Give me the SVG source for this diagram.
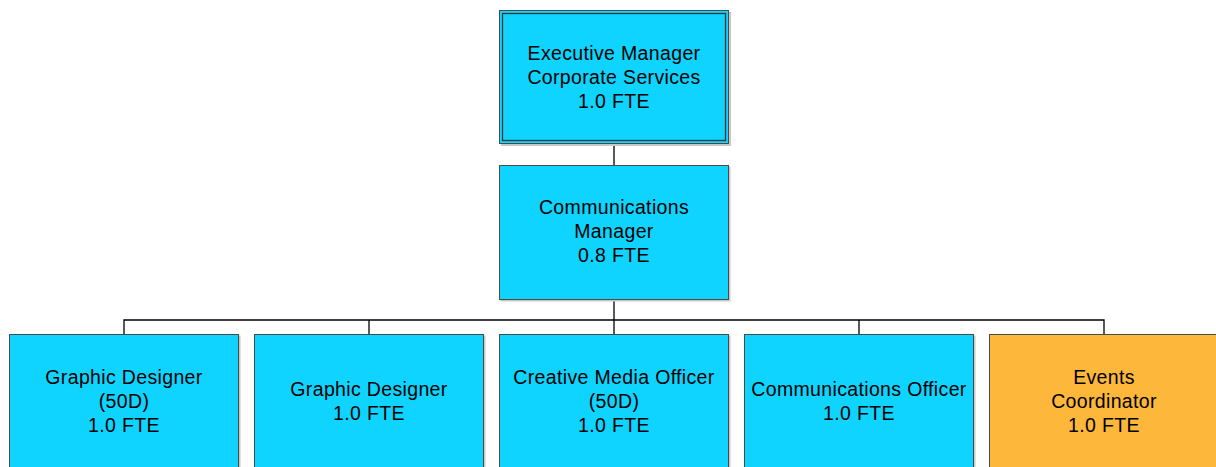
<svg xmlns="http://www.w3.org/2000/svg" width="1216" height="467" viewBox="0 0 1216 467">
<style>
.box{fill:#0fd4ff;stroke:#4a4a4a;stroke-width:1}
.ev{fill:#fdb73a;stroke:#4a4a4a;stroke-width:1}
.sh{fill:#c8c8c8}
.t{font-family:"Liberation Sans",Arial,sans-serif;font-size:19.5px;letter-spacing:0.35px;fill:#000;text-anchor:middle}
.c{fill:none;stroke:#000;stroke-width:1.3}
</style>
<rect width="1216" height="467" fill="#fff"/>
<g id="connectors">
<path class="c" d="M614 144V165"/>
<path class="c" d="M614 300V334"/>
<path class="c" d="M124 334V320H1104V334"/>
<path class="c" d="M369 320V334M859 320V334"/>
</g>
<g id="exec">
<rect class="sh" x="501" y="12" width="230" height="134"/>
<rect class="box" x="499.5" y="10.5" width="229" height="133" stroke="#333" stroke-width="1.8"/>
<rect x="502.5" y="13.5" width="223" height="127" fill="none" stroke="#333" stroke-width="1.3"/>
<text class="t" x="614" y="60">Executive Manager</text>
<text class="t" x="614" y="84">Corporate Services</text>
<text class="t" x="614" y="107.5">1.0 FTE</text>
</g>
<g id="commsmgr">
<rect class="sh" x="500.5" y="166.5" width="230" height="135"/>
<rect class="box" x="499.5" y="165.5" width="229" height="134"/>
<text class="t" x="614" y="214">Communications</text>
<text class="t" x="614" y="238">Manager</text>
<text class="t" x="614" y="262">0.8 FTE</text>
</g>
<g id="gd50">
<rect class="sh" x="10.5" y="335.5" width="230" height="140"/>
<rect class="box" x="9.5" y="334.5" width="229" height="140"/>
<text class="t" x="124" y="384">Graphic Designer</text>
<text class="t" x="124" y="408">(50D)</text>
<text class="t" x="124" y="432">1.0 FTE</text>
</g>
<g id="gd">
<rect class="sh" x="255.5" y="335.5" width="230" height="140"/>
<rect class="box" x="254.5" y="334.5" width="229" height="140"/>
<text class="t" x="369" y="396">Graphic Designer</text>
<text class="t" x="369" y="419.5">1.0 FTE</text>
</g>
<g id="cmo">
<rect class="sh" x="500.5" y="335.5" width="230" height="140"/>
<rect class="box" x="499.5" y="334.5" width="229" height="140"/>
<text class="t" x="614" y="384">Creative Media Officer</text>
<text class="t" x="614" y="408">(50D)</text>
<text class="t" x="614" y="432">1.0 FTE</text>
</g>
<g id="co">
<rect class="sh" x="745.5" y="335.5" width="230" height="140"/>
<rect class="box" x="744.5" y="334.5" width="229" height="140"/>
<text class="t" x="859" y="396">Communications Officer</text>
<text class="t" x="859" y="419.5">1.0 FTE</text>
</g>
<g id="events">
<rect class="ev" x="989.5" y="334.5" width="240" height="140"/>
<text class="t" x="1104" y="384">Events</text>
<text class="t" x="1104" y="408">Coordinator</text>
<text class="t" x="1104" y="432">1.0 FTE</text>
</g>
</svg>
